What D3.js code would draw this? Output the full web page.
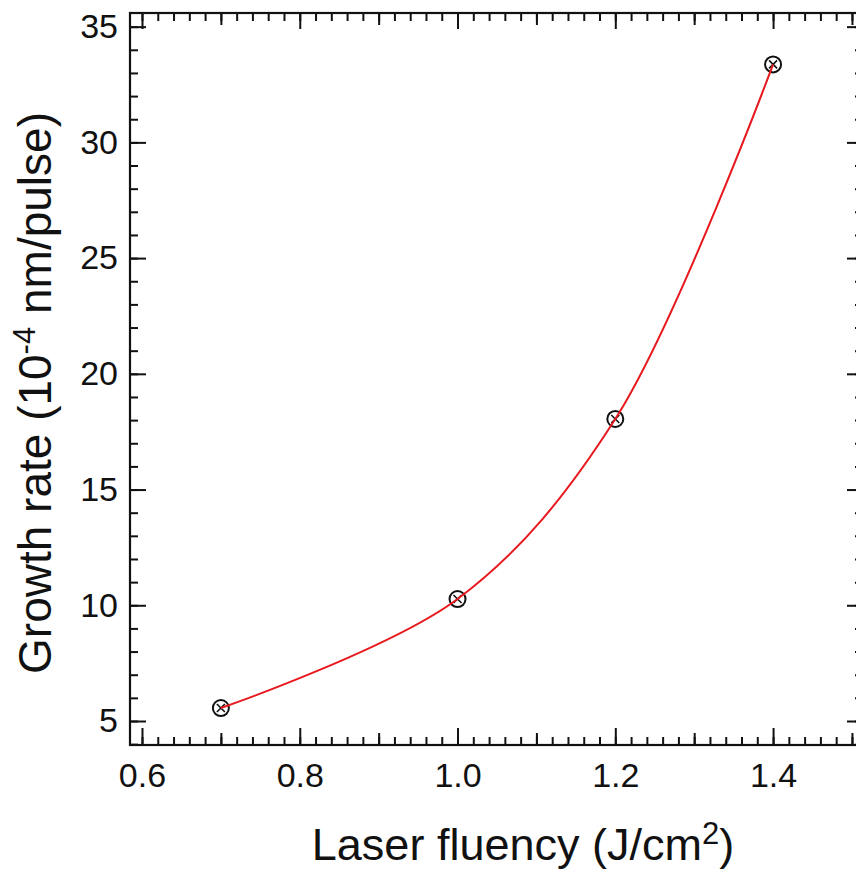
<!DOCTYPE html>
<html>
<head>
<meta charset="utf-8">
<script src="https://cdn.jsdelivr.net/npm/d3@7"></script>
<style>
    body { margin: 0; background: #fff; }
    svg { display: block; font-family: "Liberation Sans", Arial, sans-serif; }
</style>
</head>
<body>
<svg id="chart" width="856" height="869"></svg>
<script>
// data
const fluency = [0.7, 1.0, 1.2, 1.4]
const growthRate = [5.56, 10.27, 18.05, 33.37]

const xMajor = [0.6, 0.8, 1.0, 1.2, 1.4]
const xMajorLabels = ["0.6", "0.8", "1.0", "1.2", "1.4"]
const yMajor = [5, 10, 15, 20, 25, 30, 35]

const svg = d3.select('#chart')
// plot box edges (right edge sits just past the picture, as in the original)
const padL = 130, padT = 13, padR = 863, padB = 745

const x = d3.scaleLinear().domain([0.5848, 1.514]).range([padL, padR])
const y = d3.scaleLinear().domain([3.963, 35.59]).range([padB, padT])

const points = fluency.map((f, i) => ({ x: f, y: growthRate[i] }))

// tick positions
const xMinor = d3.range(0.6, 1.52, 0.02).map(d => +d.toFixed(2))
const xMid = d3.range(0.7, 1.52, 0.2).map(d => +d.toFixed(1))
const yMinor = d3.range(4, 36, 1)

const g = svg.append('g')

function tickAxis(axis, scale, values, size, fmt, pad) {
    return axis(scale).tickValues(values).tickSize(-size).tickPadding(pad || 0)
        .tickFormat(fmt || (() => ''))
}

function styleAxis(sel) {
    sel.select('.domain').remove()
    sel.selectAll('line').attr('stroke', '#111').attr('stroke-width', 2)
    sel.selectAll('text')
        .attr('fill', '#111')
        .style('font-size', '34px')
        .style('font-family', '"Liberation Sans", Arial, sans-serif')
}

// bottom axis
g.append('g').attr('transform', `translate(0,${padB})`)
    .call(tickAxis(d3.axisBottom, x, xMinor, 8)).call(styleAxis)
g.append('g').attr('transform', `translate(0,${padB})`)
    .call(tickAxis(d3.axisBottom, x, xMid, 12)).call(styleAxis)
g.append('g').attr('transform', `translate(0,${padB})`)
    .call(tickAxis(d3.axisBottom, x, xMajor, 17, (d, i) => xMajorLabels[i], 18)).call(styleAxis)

// top axis (mirror)
g.append('g').attr('transform', `translate(0,${padT})`)
    .call(tickAxis(d3.axisTop, x, xMinor, 8)).call(styleAxis)
g.append('g').attr('transform', `translate(0,${padT})`)
    .call(tickAxis(d3.axisTop, x, xMid, 12)).call(styleAxis)
g.append('g').attr('transform', `translate(0,${padT})`)
    .call(tickAxis(d3.axisTop, x, xMajor, 16)).call(styleAxis)

// left axis
g.append('g').attr('transform', `translate(${padL},0)`)
    .call(tickAxis(d3.axisLeft, y, yMinor, 8)).call(styleAxis)
g.append('g').attr('transform', `translate(${padL},0)`)
    .call(tickAxis(d3.axisLeft, y, yMajor, 16, d => d, 12)).call(styleAxis)

// right axis (mirror)
g.append('g').attr('transform', `translate(${padR},0)`)
    .call(tickAxis(d3.axisRight, y, yMinor, 8)).call(styleAxis)
g.append('g').attr('transform', `translate(${padR},0)`)
    .call(tickAxis(d3.axisRight, y, yMajor, 16)).call(styleAxis)

// frame
g.append('rect')
    .attr('x', padL).attr('y', padT)
    .attr('width', padR - padL).attr('height', padB - padT)
    .attr('fill', 'none').attr('stroke', '#111').attr('stroke-width', 2.2)

// markers: open circle with a small cross
const marks = g.selectAll('.mark').data(points).join('g').attr('class', 'mark')
    .attr('transform', d => `translate(${x(d.x)},${y(d.y)})`)
marks.append('circle').attr('r', 8)
    .attr('fill', 'none').attr('stroke', '#111').attr('stroke-width', 2)
marks.append('path').attr('d', 'M-4,-4L4,4M-4,4L4,-4')
    .attr('stroke', '#111').attr('stroke-width', 1.6)

// smooth fit through the points
const line = d3.line().x(d => x(d.x)).y(d => y(d.y)).curve(d3.curveCatmullRom.alpha(0.5))
g.append('path').datum(points)
    .attr('d', line)
    .attr('fill', 'none')
    .attr('stroke', '#e8191e')
    .attr('stroke-width', 2)

// axis titles
g.append('text')
    .attr('x', 523).attr('y', 860)
    .attr('text-anchor', 'middle')
    .style('font-size', '45px')
    .attr('fill', '#111')
    .html('Laser fluency (J/cm<tspan dy="-16" font-size="31">2</tspan><tspan dy="16">)</tspan>')

g.append('text')
    .attr('transform', 'translate(51,393) rotate(-90)')
    .attr('text-anchor', 'middle')
    .style('font-size', '46px')
    .attr('fill', '#111')
    .html('Growth rate (10<tspan dy="-16" font-size="31">-4</tspan><tspan dy="16"> nm/pulse)</tspan>')
</script>
</body>
</html>
